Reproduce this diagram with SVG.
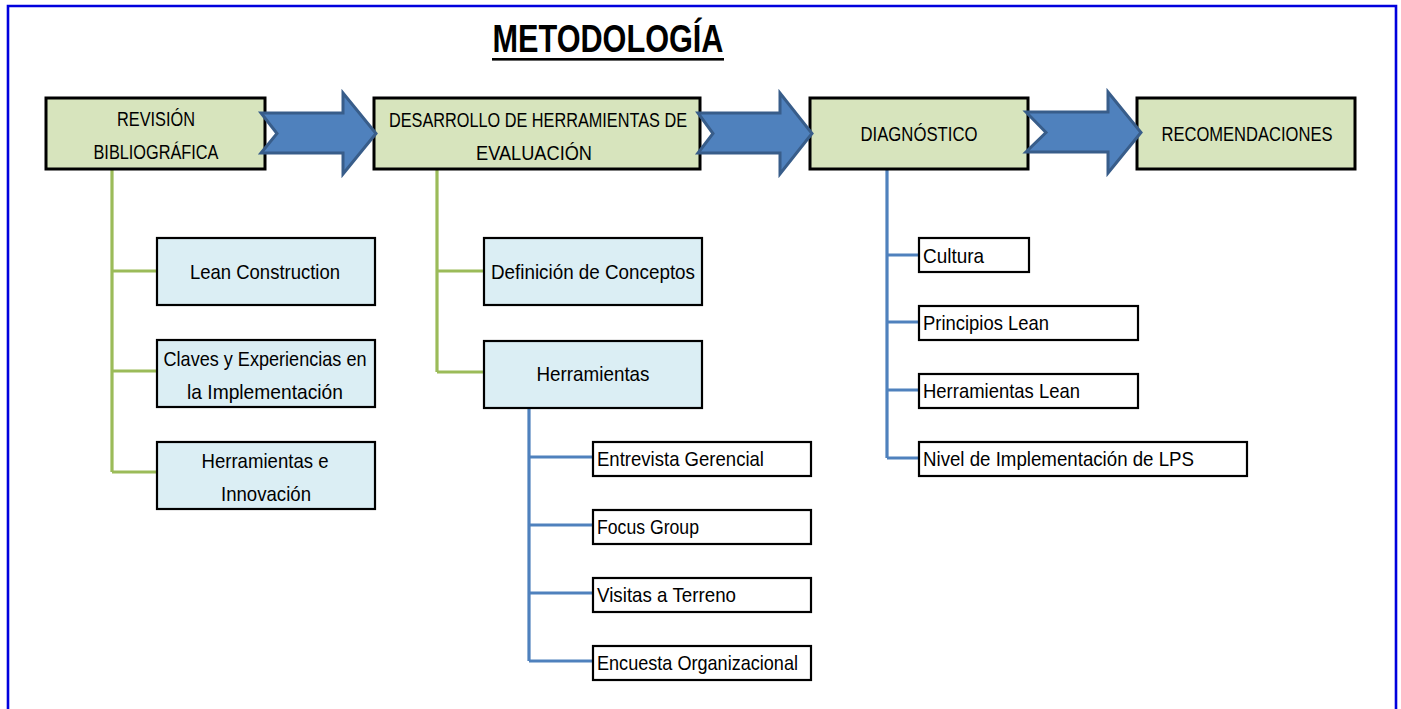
<svg xmlns="http://www.w3.org/2000/svg" width="1401" height="709" viewBox="0 0 1401 709">
  <style>
    text { font-family: "Liberation Sans", Arial, sans-serif; fill: #000; }
    .title { font-size: 39px; font-weight: bold; text-anchor: middle; }
    .hdr { fill: #d7e4bd; stroke: #000; stroke-width: 3; }
    .sub { fill: #dbeef4; stroke: #000; stroke-width: 2.2; }
    .leaf { fill: #fff; stroke: #000; stroke-width: 2.2; }
    .ht { font-size: 20px; text-anchor: middle; }
    .st { font-size: 21px; text-anchor: middle; }
    .lt { font-size: 21px; }
    .green { fill: none; stroke: #9bbb59; stroke-width: 3.2; }
    .blue { fill: none; stroke: #4f81bd; stroke-width: 3.2; }
    .flow { fill: #4f81bd; stroke: #385d8a; stroke-width: 3; stroke-linejoin: miter; }
  </style>

  <!-- page frame (open at the bottom) -->
  <path d="M8,709 V6 H1396 V709" fill="none" stroke="#0000dd" stroke-width="2.6"/>

  <!-- title -->
  <g id="title">
    <text class="title" x="608" y="52" textLength="231" lengthAdjust="spacingAndGlyphs">METODOLOGÍA</text>
    <rect x="492" y="58" width="232" height="2.6" fill="#000"/>
  </g>

  <!-- tree connectors -->
  <g id="connectors">
    <path class="green" d="M112,169 V472 M112,271 H157 M112,371 H157 M112,472 H157"/>
    <path class="green" d="M437,169 V372 M437,271 H484 M437,372 H484"/>
    <path class="blue" d="M529,408 V661 M529,457 H593 M529,525 H593 M529,593 H593 M529,661 H593"/>
    <path class="blue" d="M887,169 V458 M887,255 H919 M887,322 H919 M887,390 H919 M887,458 H919"/>
  </g>

  <!-- phase headers -->
  <g id="revision">
    <rect class="hdr" x="46" y="98" width="219" height="71"/>
    <text class="ht" x="156" y="126" textLength="78" lengthAdjust="spacingAndGlyphs">REVISIÓN</text>
    <text class="ht" x="156" y="159" textLength="125" lengthAdjust="spacingAndGlyphs">BIBLIOGRÁFICA</text>
  </g>
  <g id="desarrollo">
    <rect class="hdr" x="374" y="98" width="326" height="71"/>
    <text class="ht" x="538" y="127" textLength="298" lengthAdjust="spacingAndGlyphs">DESARROLLO DE HERRAMIENTAS DE</text>
    <text class="ht" x="534" y="160" textLength="116" lengthAdjust="spacingAndGlyphs">EVALUACIÓN</text>
  </g>
  <g id="diagnostico">
    <rect class="hdr" x="810" y="98" width="218" height="71"/>
    <text class="ht" x="919" y="141" textLength="117" lengthAdjust="spacingAndGlyphs">DIAGNÓSTICO</text>
  </g>
  <g id="recomendaciones">
    <rect class="hdr" x="1137" y="98" width="218" height="71"/>
    <text class="ht" x="1247" y="141" textLength="171" lengthAdjust="spacingAndGlyphs">RECOMENDACIONES</text>
  </g>

  <!-- flow arrows between phases -->
  <g id="flow-arrows">
    <polygon class="flow" points="261,113 343,113 343,93 376,133.5 343,174 343,153 261,153 277,133.5"/>
    <polygon class="flow" points="698,113 780,113 780,93 812,133.5 780,174 780,153 698,153 713,133.5"/>
    <polygon class="flow" points="1026,112 1108,112 1108,92 1141,132.5 1108,173 1108,152 1026,152 1046,132.5"/>
  </g>

  <!-- revisión bibliográfica topics -->
  <g id="lean-construction">
    <rect class="sub" x="157" y="238" width="218" height="67"/>
    <text class="st" x="265" y="279" textLength="150" lengthAdjust="spacingAndGlyphs">Lean Construction</text>
  </g>
  <g id="claves">
    <rect class="sub" x="157" y="340" width="218" height="67"/>
    <text class="st" x="265" y="366" textLength="203" lengthAdjust="spacingAndGlyphs">Claves y Experiencias en</text>
    <text class="st" x="265" y="399" textLength="156" lengthAdjust="spacingAndGlyphs">la Implementación</text>
  </g>
  <g id="herramientas-innovacion">
    <rect class="sub" x="157" y="442" width="218" height="67"/>
    <text class="st" x="265" y="468" textLength="127" lengthAdjust="spacingAndGlyphs">Herramientas e</text>
    <text class="st" x="266" y="501" textLength="90" lengthAdjust="spacingAndGlyphs">Innovación</text>
  </g>

  <!-- desarrollo de herramientas topics -->
  <g id="definicion">
    <rect class="sub" x="484" y="238" width="218" height="67"/>
    <text class="st" x="593" y="279" textLength="204" lengthAdjust="spacingAndGlyphs">Definición de Conceptos</text>
  </g>
  <g id="herramientas">
    <rect class="sub" x="484" y="341" width="218" height="67"/>
    <text class="st" x="593" y="381" textLength="113" lengthAdjust="spacingAndGlyphs">Herramientas</text>
  </g>

  <!-- evaluation instruments -->
  <g id="entrevista">
    <rect class="leaf" x="593" y="442" width="218" height="34"/>
    <text class="lt" x="597" y="466" textLength="167" lengthAdjust="spacingAndGlyphs">Entrevista Gerencial</text>
  </g>
  <g id="focus-group">
    <rect class="leaf" x="593" y="510" width="218" height="34"/>
    <text class="lt" x="597" y="534" textLength="102" lengthAdjust="spacingAndGlyphs">Focus Group</text>
  </g>
  <g id="visitas">
    <rect class="leaf" x="593" y="578" width="218" height="34"/>
    <text class="lt" x="597" y="602" textLength="139" lengthAdjust="spacingAndGlyphs">Visitas a Terreno</text>
  </g>
  <g id="encuesta">
    <rect class="leaf" x="593" y="646" width="218" height="34"/>
    <text class="lt" x="597" y="670" textLength="201" lengthAdjust="spacingAndGlyphs">Encuesta Organizacional</text>
  </g>

  <!-- diagnóstico dimensions -->
  <g id="cultura">
    <rect class="leaf" x="919" y="238" width="110" height="34"/>
    <text class="lt" x="923" y="263" textLength="61" lengthAdjust="spacingAndGlyphs">Cultura</text>
  </g>
  <g id="principios">
    <rect class="leaf" x="919" y="306" width="219" height="34"/>
    <text class="lt" x="923" y="330" textLength="126" lengthAdjust="spacingAndGlyphs">Principios Lean</text>
  </g>
  <g id="herramientas-lean">
    <rect class="leaf" x="919" y="374" width="219" height="34"/>
    <text class="lt" x="923" y="398" textLength="157" lengthAdjust="spacingAndGlyphs">Herramientas Lean</text>
  </g>
  <g id="nivel-lps">
    <rect class="leaf" x="919" y="442" width="328" height="34"/>
    <text class="lt" x="923" y="466" textLength="271" lengthAdjust="spacingAndGlyphs">Nivel de Implementación de LPS</text>
  </g>
</svg>
